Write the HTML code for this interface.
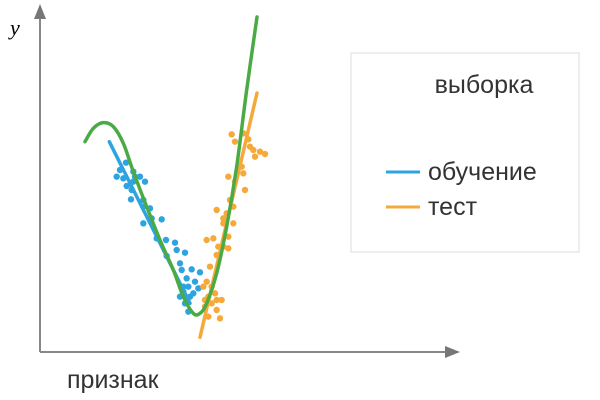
<!DOCTYPE html>
<html><head><meta charset="utf-8"><style>
body{margin:0;background:#fff}
svg{display:block}
text{font-family:"Liberation Sans",sans-serif}
</style></head><body>
<svg id="chart" width="600" height="400" viewBox="0 0 600 400">
<g>
<line x1="40" y1="352" x2="40" y2="16" stroke="#888" stroke-width="2"/>
<polygon points="40,4 34,19 46,19" fill="#777"/>
<line x1="40" y1="352" x2="448" y2="352" stroke="#888" stroke-width="2"/>
<polygon points="460,352 445,346 445,358" fill="#777"/>
</g>
<text x="10" y="35" font-style="italic" font-size="22" style="font-family:'Liberation Serif',serif">y</text>
<text x="67" y="388" font-size="25" fill="#333">признак</text>
<g id="marks"></g>
<g>
<rect x="351" y="53" width="228" height="199" fill="#fff" stroke="#ddd"/>
<text x="484" y="93" font-size="25" fill="#333" text-anchor="middle">выборка</text>
<line x1="386" y1="172" x2="420" y2="172" stroke="#2da4df" stroke-width="3"/>
<text x="428" y="180" font-size="25" fill="#333">обучение</text>
<line x1="386" y1="207" x2="420" y2="207" stroke="#f6a93b" stroke-width="3"/>
<text x="428" y="215" font-size="25" fill="#333">тест</text>
</g>
</svg>
<script>
var blueX=[120,110,130,138,160,165,180,195,140,160,155,153,190,190,210,215,190,245,230,258,285,290,260,315,300,305,335,360,320,345,325,355,310,300,320,330,315,325,340,310];
var blueY=[210,230,235,188,215,230,230,245,258,245,270,298,300,320,325,355,370,358,415,420,428,450,468,458,490,510,508,517,535,545,560,565,575,590,595,590,610,635,580,560];
var orangeX=[455,490,465,505,510,520,540,525,555,485,445,490,465,495,450,410,430,460,440,430,460,445,415,430,445,400,380,410,390,380,370,395,405,385,375,395,425,410,385,420,375,410];
var orangeY=[103,100,125,118,140,150,155,170,162,200,230,220,245,270,300,330,355,320,340,370,370,410,440,440,445,415,420,465,500,545,560,560,580,590,600,610,600,630,650,655,620,600];
var greenX=[15,40,70,100,130,160,200,240,280,310,340,360,380,410,440,470,500,531];
var greenY=[125,85,68,80,130,215,320,420,510,590,640,640,610,520,380,200,-30,-249];
var blueLineX=[88,330];
var blueLineY=[125,610];
var orangeLineX=[360,531];
var orangeLineY=[712,-21];

function xScale(v){return 80+v/3;}
function yScale(v){return 100+v/3;}
var marksG=document.getElementById('marks');
var SVGNS='http://www.w3.org/2000/svg';
function f(n){return n.toFixed(2);}
function drawPath(xs,ys,color,name,smooth){
  var P=[];
  for(var i=0;i<xs.length;i++){P.push([xScale(xs[i]),yScale(ys[i])]);}
  var d='M'+f(P[0][0])+' '+f(P[0][1]);
  for(var k=0;k<P.length-1;k++){
    if(!smooth){d+=' L'+f(P[k+1][0])+' '+f(P[k+1][1]);continue;}
    var p0=P[Math.max(k-1,0)],p1=P[k],p2=P[k+1],p3=P[Math.min(k+2,P.length-1)];
    var c1x=p1[0]+(p2[0]-p0[0])/6,c1y=p1[1]+(p2[1]-p0[1])/6;
    var c2x=p2[0]-(p3[0]-p1[0])/6,c2y=p2[1]-(p3[1]-p1[1])/6;
    d+=' C'+f(c1x)+' '+f(c1y)+' '+f(c2x)+' '+f(c2y)+' '+f(p2[0])+' '+f(p2[1]);
  }
  var p=document.createElementNS(SVGNS,'path');
  
  
  p.setAttribute('d',d);
  p.setAttribute('fill','none');
  p.setAttribute('stroke',color);
  p.setAttribute('stroke-width','3.5');
  p.setAttribute('stroke-linecap','round');
  marksG.appendChild(p);
}
function drawDots(xs,ys,color,name){
  for(var i=0;i<xs.length;i++){
    var c=document.createElementNS(SVGNS,'circle');
    
    
    c.setAttribute('cx',f(xScale(xs[i])));
    c.setAttribute('cy',f(yScale(ys[i])));
    c.setAttribute('r','3.2');
    c.setAttribute('fill',color);
    marksG.appendChild(c);
  }
}
drawDots(blueX,blueY,'#2da4df','train-point');
drawDots(orangeX,orangeY,'#f6a93b','test-point');
drawPath(blueLineX,blueLineY,'#2da4df','train-fit-line',false);
drawPath(orangeLineX,orangeLineY,'#f6a93b','test-fit-line',false);
drawPath(greenX,greenY,'#4aab45','model-curve',true);
</script>
</body></html>
